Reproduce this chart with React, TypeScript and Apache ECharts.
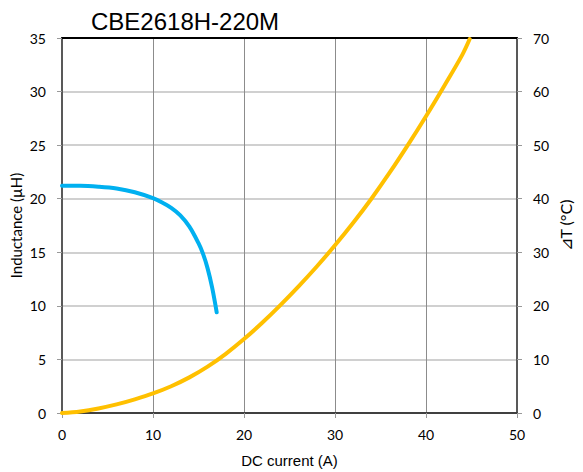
import React, { useEffect, useRef } from "react";
import * as echarts from "echarts";

const title = "CBE2618H-220M";
const xName = "DC current (A)";
const leftName = "Inductance (µH)";
const rightName = "⊿T (°C)";

const currentL = [0, 2, 4, 6, 8, 10, 11, 12, 13, 14, 15, 15.5, 16, 16.5, 17];
const inductance = [21.2, 21.2, 21.12, 20.95, 20.6, 20.05, 19.65, 19.15, 18.45, 17.4, 15.85, 14.85, 13.5, 11.7, 9.4];

const currentT = [0, 2, 4, 6, 8, 10, 12, 14, 16, 18, 20, 22, 24, 26, 28, 30, 32, 34, 36, 38, 40, 42, 44, 44.8];
const deltaT = [0, 0.3, 0.85, 1.6, 2.55, 3.65, 5.0, 6.65, 8.65, 11.05, 13.8, 16.85, 20.15, 23.65, 27.35, 31.3, 35.5, 40.0, 44.85, 50.0, 55.4, 61.05, 66.9, 69.8];

export default function App() {
  const ref = useRef<HTMLDivElement>(null);
  useEffect(() => {
    const chart = echarts.init(ref.current!, null, { renderer: "svg" });
    const tickFont = { fontFamily: "Lato", fontSize: 14, color: "#000" };
    chart.setOption({
      animation: false,
      backgroundColor: "#fff",
      title: {
        text: title,
        left: 86,
        top: 4,
        textStyle: { fontFamily: "Liberation Sans", fontSize: 24, fontWeight: "normal", color: "#000" },
      },
      grid: { left: 62, right: 66, top: 38, bottom: 59, outerBoundsMode: "none", containLabel: false },
      xAxis: [
        {
          type: "value",
          min: 0,
          max: 50,
          interval: 10,
          name: xName,
          nameLocation: "middle",
          nameGap: 40,
          nameMoveOverlap: false,
          nameTextStyle: { fontFamily: "Liberation Sans", fontSize: 15, color: "#000" },
          axisLine: { show: true, onZero: false, lineStyle: { color: "#404040", width: 2 } },
          axisTick: { show: true, inside: false, length: 5, lineStyle: { color: "#999" } },
          axisLabel: { ...tickFont, margin: 14 },
          splitLine: { show: true, lineStyle: { color: "#8c8c8c", width: 1 } },
        },
        {
          type: "value",
          position: "top",
          min: 0,
          max: 50,
          interval: 10,
          axisLine: { show: true, onZero: false, lineStyle: { color: "#000", width: 2 } },
          axisTick: { show: false },
          axisLabel: { show: false },
          splitLine: { show: false },
        },
      ],
      yAxis: [
        {
          type: "value",
          min: 0,
          max: 35,
          interval: 5,
          name: leftName,
          nameLocation: "middle",
          nameGap: 39,
          nameMoveOverlap: false,
          nameRotate: 90,
          nameTextStyle: { fontFamily: "Lato", fontSize: 15, color: "#000" },
          axisLine: { show: true, onZero: false, lineStyle: { color: "#595959", width: 2 } },
          axisTick: { show: true, inside: false, length: 5, lineStyle: { color: "#999" } },
          axisLabel: { ...tickFont, margin: 16 },
          splitLine: { show: true, lineStyle: { color: "#c0c0c0", width: 1.5 } },
        },
        {
          type: "value",
          min: 0,
          max: 70,
          interval: 10,
          position: "right",
          name: rightName,
          nameLocation: "middle",
          nameGap: 40,
          nameMoveOverlap: false,
          nameRotate: 90,
          nameTextStyle: { fontFamily: "Lato", fontSize: 16, color: "#000" },
          axisLine: { show: true, onZero: false, lineStyle: { color: "#595959", width: 2 } },
          axisTick: { show: true, inside: false, length: 5, lineStyle: { color: "#999" } },
          axisLabel: { ...tickFont, margin: 16 },
          splitLine: { show: false },
        },
      ],
      series: [
        {
          type: "line",
          xAxisIndex: 0,
          yAxisIndex: 0,
          data: currentL.map((x, i) => [x, inductance[i]]),
          smooth: 0.35,
          showSymbol: false,
          lineStyle: { color: "#00b0f0", width: 4, cap: "round" },
        },
        {
          type: "line",
          xAxisIndex: 0,
          yAxisIndex: 1,
          data: currentT.map((x, i) => [x, deltaT[i]]),
          smooth: 0.35,
          showSymbol: false,
          lineStyle: { color: "#ffc000", width: 4, cap: "round" },
        },
      ],
    });
    return () => chart.dispose();
  }, []);
  return <div ref={ref} style={{ width: 583, height: 472, position: "absolute", left: 0, top: 0 }} />;
}
